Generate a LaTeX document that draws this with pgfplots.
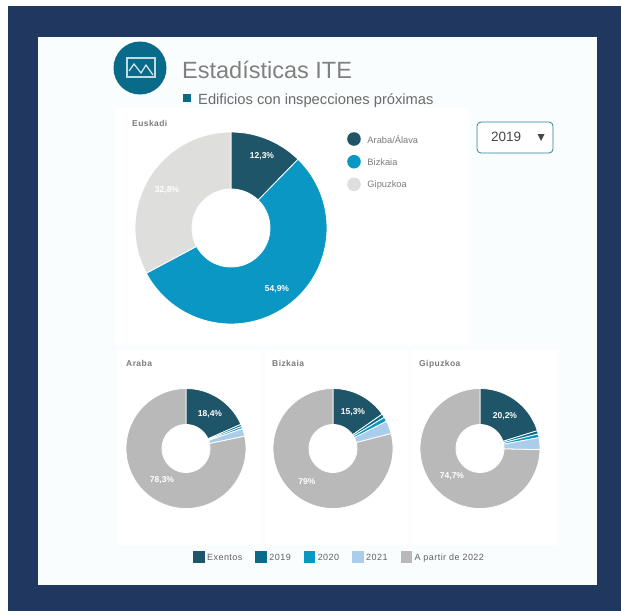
\documentclass[border=0pt]{standalone}
\usepackage{fontspec}
\setmainfont{Liberation Sans}
\newfontfamily\spaced[LetterSpace=5]{Liberation Sans}
\usepackage{pgfplots}
\pgfplotsset{compat=1.18}

\definecolor{navy}{HTML}{20385F}
\definecolor{panel}{HTML}{F9FDFD}
\definecolor{exentos}{HTML}{1F5568}
\definecolor{y2019}{HTML}{0A6A8A}
\definecolor{y2020}{HTML}{0A97C4}
\definecolor{y2021}{HTML}{A9CDEB}
\definecolor{y2022}{HTML}{B9B9B9}
\definecolor{guip}{HTML}{DEDEDC}
\definecolor{txt}{HTML}{7C7C7C}

% one unit = one pixel of the reference, y runs downwards
\pgfplotsset{page/.style={
  scale only axis, width=621pt, height=611pt,
  xmin=0, xmax=621, ymin=0, ymax=611, y dir=reverse,
  hide axis, clip=false, legend cell align=left}}

% \donut{cx}{cy}{outer r}{inner r}{value/colour,...}, values in percent
\newcommand{\donut}[5]{%
  \gdef\startpct{0}%
  \foreach \v/\c in {#5}{%
    \pgfmathsetmacro\endpct{\startpct+\v}%
    \pgfmathsetmacro\angA{\startpct*3.6}%
    \pgfmathsetmacro\angB{\endpct*3.6}%
    \pgfmathtruncatemacro\nseg{max(1,ceil((\angB-\angA)/3))}%
    \gdef\pts{}%
    \foreach \i in {0,...,\nseg}{%
      \pgfmathsetmacro\an{\angA+(\angB-\angA)*(\i/\nseg)}%
      \pgfmathsetmacro\px{#1+#3*sin(\an)}%
      \pgfmathsetmacro\py{#2-#3*cos(\an)}%
      \xdef\pts{\pts (\px,\py)}%
    }%
    \foreach \i in {\nseg,...,0}{%
      \pgfmathsetmacro\an{\angA+(\angB-\angA)*(\i/\nseg)}%
      \pgfmathsetmacro\px{#1+#4*sin(\an)}%
      \pgfmathsetmacro\py{#2-#4*cos(\an)}%
      \xdef\pts{\pts (\px,\py)}%
    }%
    \edef\temp{\noexpand\addplot[fill=\c,draw=white,line width=0.8pt,forget plot] coordinates {\pts} --cycle;}%
    \temp
    \xdef\startpct{\endpct}%
  }%
}

\begin{document}
\begin{tikzpicture}
\begin{axis}[page,
  legend style={at={(347/621,1-132/611)},anchor=north west,draw=none,fill=none,
    inner sep=0pt,row sep=9.1pt,font=\fontsize{9.3}{10}\selectfont,text=txt,
    nodes={inner sep=0pt,text depth=0pt}},
  legend image code/.code={\fill[#1] (6.5pt,0pt) circle (6.8pt);\path (20pt,0pt);}]

% frame and panels
\fill[white] (axis cs:0,0) rectangle (axis cs:621,611);
\fill[navy] (axis cs:8,6) rectangle (axis cs:621,611);
\fill[panel] (axis cs:38,37) rectangle (axis cs:597,585);
\fill[white] (axis cs:115,108) rectangle (axis cs:468,345);
\fill[white] (axis cs:118,350) rectangle (axis cs:262,545);
\fill[white] (axis cs:265,350) rectangle (axis cs:408,545);
\fill[white] (axis cs:412,350) rectangle (axis cs:558,545);

% icon
\fill[y2019] (axis cs:140,68) circle (26.5pt);
\draw[white!75!y2019,line width=1.4pt] (axis cs:127,58) rectangle (axis cs:155,77);
\draw[white!85!y2019,line width=1.2pt] (axis cs:129,71) -- (axis cs:134,64) -- (axis cs:141,73) -- (axis cs:146,65) -- (axis cs:153,75);

% heading
\node[anchor=base west,inner sep=0pt,text=black!50,font=\fontsize{23.5}{26}\selectfont] at (axis cs:182,78) {Estadísticas ITE};
\fill[y2019] (axis cs:183,94) rectangle (axis cs:191,102);
\node[anchor=base west,inner sep=0pt,text=black!58,font=\fontsize{14.7}{17}\selectfont] at (axis cs:198,104) {Edificios con inspecciones próximas};

% year selector
\draw[y2019!85!white,fill=white,line width=0.8pt,rounded corners=4pt] (axis cs:477,122) rectangle (axis cs:553,153);
\node[anchor=base west,inner sep=0pt,text=black!72,font=\fontsize{13.5}{16}\selectfont] at (axis cs:491,141.5) {2019};
\fill[black!72] (axis cs:537.5,134) -- (axis cs:544.5,134) -- (axis cs:541,141) -- cycle;

% Euskadi
\node[anchor=base west,inner sep=0pt,text=txt,font=\spaced\bfseries\fontsize{8.5}{10}\selectfont] at (axis cs:132,126) {Euskadi};
\donut{231}{228}{96}{39}{12.3/exentos,54.9/y2020,32.8/guip}
\addlegendimage{fill=exentos,draw=none}\addlegendentry{Araba/Álava}
\addlegendimage{fill=y2020,draw=none}\addlegendentry{Bizkaia}
\addlegendimage{fill=guip,draw=none}\addlegendentry{Gipuzkoa}
\begin{scope}[every node/.style={text=white,font=\bfseries\fontsize{8.5}{10}\selectfont,inner sep=0pt}]
\node at (axis cs:262,156) {12,3\%};
\node at (axis cs:277,289) {54,9\%};
\node at (axis cs:167,190) {32,8\%};
\end{scope}
\end{axis}

\begin{axis}[page,
  legend columns=5,
  legend style={at={(193/621,1-557/611)},anchor=west,draw=none,fill=none,inner sep=0pt,
    /tikz/every even column/.style={column sep=13pt},
    font=\spaced\fontsize{9}{10}\selectfont,text=black!62,
    nodes={inner sep=0pt,text depth=0pt}},
  legend image code/.code={\fill[#1] (0pt,-5.8pt) rectangle (11.5pt,5.8pt);\path (14pt,0pt);}]

\begin{scope}[every node/.style={anchor=base west,inner sep=0pt,text=txt,font=\spaced\bfseries\fontsize{8.5}{10}\selectfont}]
\node at (axis cs:126,366) {Araba};
\node at (axis cs:272,366) {Bizkaia};
\node at (axis cs:419,366) {Gipuzkoa};
\end{scope}

\donut{186}{448.5}{60}{24}{18.4/exentos,0.6/y2019,0.6/y2020,2.1/y2021,78.3/y2022}
\donut{333}{448.5}{60}{24}{15.3/exentos,1.0/y2019,1.2/y2020,3.5/y2021,79.0/y2022}
\donut{480}{448.5}{60}{24}{20.2/exentos,0.9/y2019,1.0/y2020,3.2/y2021,74.7/y2022}

\addlegendimage{fill=exentos,draw=none}\addlegendentry{Exentos}
\addlegendimage{fill=y2019,draw=none}\addlegendentry{2019}
\addlegendimage{fill=y2020,draw=none}\addlegendentry{2020}
\addlegendimage{fill=y2021,draw=none}\addlegendentry{2021}
\addlegendimage{fill=y2022,draw=none}\addlegendentry{A partir de 2022}

\begin{scope}[every node/.style={text=white,font=\bfseries\fontsize{8.5}{10}\selectfont,inner sep=0pt}]
\node at (axis cs:210,414) {18,4\%};
\node at (axis cs:162,480) {78,3\%};
\node at (axis cs:353,412) {15,3\%};
\node at (axis cs:307,482) {79\%};
\node at (axis cs:505,416) {20,2\%};
\node at (axis cs:452,476) {74,7\%};
\end{scope}
\end{axis}
\end{tikzpicture}
\end{document}
